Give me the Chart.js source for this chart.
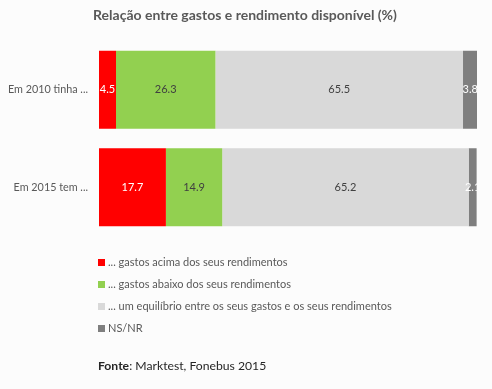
<!DOCTYPE html>
<html>
<head>
<meta charset="utf-8">
<script src="https://cdn.jsdelivr.net/npm/chart.js@4"></script>
<style>
  html, body { margin: 0; padding: 0; background: #fcfcfc; }
  #wrap { position: relative; width: 492px; height: 389px; font-family: Lato, "Open Sans", sans-serif; }
  #chart { position: absolute; left: 0; top: 0; }
  #title { position: absolute; top: 6px; left: 0; width: 490px; text-align: center; font-weight: bold; font-size: 14px; color: #595959; }
  #legend { position: absolute; left: 98px; top: 254px; font-size: 11px; color: #595959; }
  #legend div { height: 22px; line-height: 16px; white-space: nowrap; }
  #legend span.box { display: inline-block; width: 7px; height: 7px; margin-right: 3px; vertical-align: 0px; }
  #source { position: absolute; left: 98px; top: 358px; font-size: 12.2px; color: #262626; }
</style>
</head>
<body>
<div id="wrap">
  <canvas id="chart" width="492" height="389"></canvas>
  <div id="title">Relação entre gastos e rendimento disponível (%)</div>
  <div id="legend"></div>
  <div id="source"><b>Fonte</b>: Marktest, Fonebus 2015</div>
</div>
<script>
// categorias e séries
const categories = ['Em 2010 tinha ...', 'Em 2015 tem ...'];
const seriesNames = [
  '... gastos acima dos seus rendimentos',
  '... gastos abaixo dos seus rendimentos',
  '... um equilíbrio entre os seus gastos e os seus rendimentos',
  'NS/NR'
];
const acima = [4.5, 17.7];
const abaixo = [26.3, 14.9];
const equilibrio = [65.5, 65.2];
const nsnr = [3.8, 2.1];

const colors = ['#ff0000', '#92d050', '#d9d9d9', '#7f7f7f'];
const labelColors = ['#ffffff', '#404040', '#404040', '#ffffff'];
const values = [acima, abaixo, equilibrio, nsnr];

// legenda em HTML
document.getElementById('legend').innerHTML = seriesNames.map((n, i) =>
  `<div><span class="box" style="background:${colors[i]}"></span>${n}</div>`).join('');

const segmentLabels = {
  id: 'segmentLabels',
  afterDatasetsDraw(chart) {
    const ctx = chart.ctx;
    const area = chart.chartArea;
    ctx.save();
    ctx.beginPath();
    ctx.rect(area.left, area.top, area.right - area.left, area.bottom - area.top);
    ctx.clip();
    ctx.font = '11px Lato, "Open Sans", sans-serif';
    ctx.textAlign = 'center';
    ctx.textBaseline = 'middle';
    chart.data.datasets.forEach((ds, i) => {
      chart.getDatasetMeta(i).data.forEach((bar, j) => {
        ctx.fillStyle = labelColors[i];
        ctx.fillText(ds.data[j].toFixed(1), (bar.x + bar.base) / 2, bar.y);
      });
    });
    ctx.restore();
  }
};

new Chart(document.getElementById('chart').getContext('2d'), {
  type: 'bar',
  data: {
    labels: categories,
    datasets: seriesNames.map((n, i) => ({
      label: n,
      data: values[i],
      backgroundColor: colors[i],
      borderWidth: 0,
      barPercentage: 0.8,
      categoryPercentage: 1
    }))
  },
  options: {
    indexAxis: 'y',
    responsive: false,
    animation: false,
    layout: { padding: { top: 41, bottom: 153, right: 15, left: 0 } },
    plugins: { legend: { display: false }, title: { display: false }, tooltip: { enabled: false } },
    scales: {
      x: { stacked: true, display: false, min: 0, max: 100 },
      y: {
        stacked: true,
        grid: { display: false },
        border: { display: false },
        afterFit: s => { s.width = 99; },
        ticks: { color: '#595959', font: { size: 10.8, family: 'Lato, "Open Sans", sans-serif' }, padding: 3 }
      }
    }
  },
  plugins: [segmentLabels]
});
</script>
</body>
</html>
